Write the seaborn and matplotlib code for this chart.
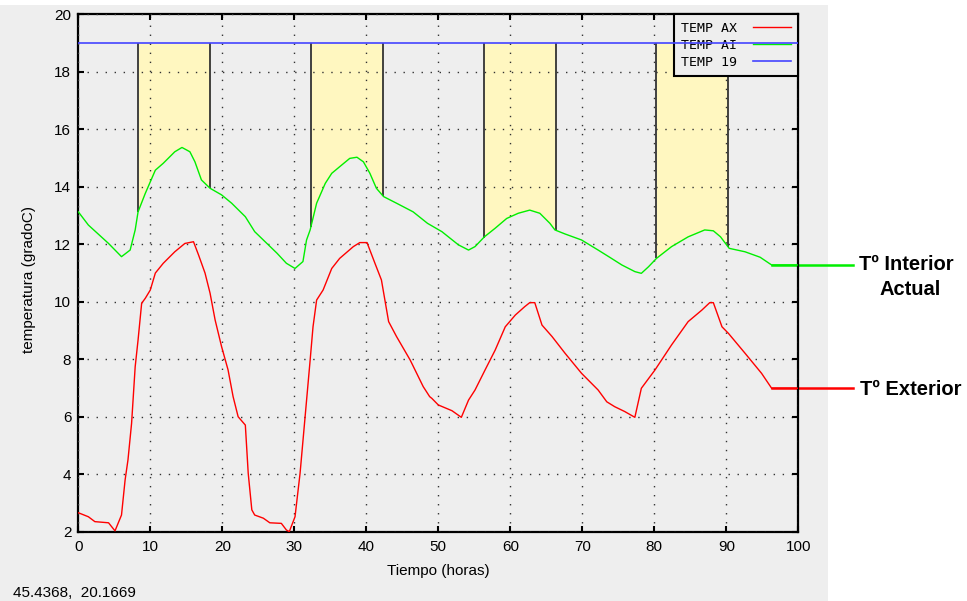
import numpy as np
import pandas as pd
import seaborn as sns
import matplotlib.pyplot as plt
from matplotlib.patches import Rectangle

# exterior temperature (TEMP AX)
ext_t = [0, 1.4, 2.3, 4.2, 4.9, 5.1, 6.0, 6.5, 6.9, 7.4, 7.9, 8.3, 8.8, 9.3, 10.0, 10.7,
         11.8, 13.4, 14.8, 16.0, 16.7, 17.6, 18.3, 19.0, 19.9, 20.8, 21.5, 22.2, 23.2, 23.6,
         24.1, 24.5, 25.7, 26.6, 28.2, 28.9, 29.3, 30.1, 30.8, 31.5, 32.2, 32.6, 33.1, 34.0,
         35.2, 36.3, 38.2, 39.1, 40.1, 41.2, 42.1, 43.1, 44.2, 46.1, 47.9, 48.8, 49.1, 50.0,
         51.9, 53.2, 54.2, 55.1, 56.5, 57.9, 59.3, 60.7, 62.0, 62.7, 63.4, 64.4, 65.8, 67.6,
         69.9, 72.2, 73.4, 74.5, 75.9, 77.3, 78.2, 80.1, 82.4, 84.7, 86.6, 87.7, 88.2, 89.4,
         90.3, 92.6, 94.9, 96.3, 100]
ext_v = [2.66, 2.52, 2.35, 2.31, 2.09, 2.03, 2.58, 3.8, 4.5, 5.77, 7.74, 8.67, 9.95, 10.12,
         10.41, 11.0, 11.34, 11.74, 12.03, 12.09, 11.63, 11.0, 10.3, 9.37, 8.44, 7.63, 6.7,
         6.0, 5.71, 4.03, 2.76, 2.58, 2.47, 2.31, 2.29, 2.06, 2.0, 2.52, 4.03, 6.0, 7.97,
         9.13, 10.06, 10.41, 11.16, 11.51, 11.92, 12.06, 12.06, 11.34, 10.76, 9.31, 8.79,
         7.97, 7.05, 6.7, 6.64, 6.41, 6.21, 5.98, 6.58, 6.93, 7.63, 8.32, 9.13, 9.54, 9.83,
         9.97, 9.97, 9.19, 8.79, 8.21, 7.51, 6.93, 6.52, 6.35, 6.18, 5.98, 6.99, 7.63, 8.5,
         9.31, 9.71, 9.97, 9.97, 9.13, 8.9, 8.21, 7.51, 6.99, 6.99]

# interior temperature (TEMP AI)
int_t = [0, 1.4, 4.2, 6.0, 7.2, 7.9, 8.3, 9.3, 10.7, 11.8, 13.4, 14.4, 15.5, 16.2, 17.1,
         18.3, 19.9, 21.3, 23.2, 24.5, 25.7, 27.6, 28.9, 30.1, 31.2, 31.7, 32.2, 33.1, 34.3,
         35.2, 36.3, 37.7, 38.7, 39.6, 40.5, 41.4, 42.4, 44.2, 46.5, 48.5, 50.5, 52.8, 54.2,
         55.1, 56.4, 57.9, 59.5, 61.1, 62.7, 64.1, 65.5, 66.2, 67.6, 69.9, 72.2, 73.8, 75.5,
         77.3, 78.2, 79.2, 80.3, 82.4, 84.7, 87.0, 88.2, 89.2, 90.4, 92.6, 94.7, 96.3, 100]
int_v = [13.13, 12.67, 12.03, 11.57, 11.8, 12.5, 13.13, 13.77, 14.58, 14.82, 15.22, 15.37,
         15.22, 14.87, 14.24, 13.95, 13.72, 13.43, 12.96, 12.44, 12.15, 11.69, 11.34, 11.16,
         11.4, 12.15, 12.5, 13.43, 14.12, 14.47, 14.7, 14.99, 15.03, 14.87, 14.47, 13.95,
         13.66, 13.43, 13.13, 12.73, 12.44, 11.98, 11.8, 11.92, 12.26, 12.56, 12.9, 13.08,
         13.19, 13.08, 12.73, 12.5, 12.36, 12.15, 11.8, 11.55, 11.28, 11.05, 10.99, 11.22,
         11.51, 11.92, 12.26, 12.5, 12.47, 12.26, 11.86, 11.74, 11.55, 11.28, 11.28]

setpoint = 19
band_start = [8.3, 32.3, 56.3, 80.3]
band_end = [18.3, 42.3, 66.3, 90.3]
series_labels = ["TEMP AX", "TEMP AI", "TEMP 19"]

ext = pd.DataFrame({"t": ext_t, "v": ext_v})
inn = pd.DataFrame({"t": int_t, "v": int_v})
ref = pd.DataFrame({"t": [0, 100], "v": [setpoint, setpoint]})

plt.rcParams["font.family"] = ["Liberation Sans", "DejaVu Sans"]

fig = plt.figure(figsize=(9.67, 6.01), dpi=100, facecolor="white")
fig.patches.append(Rectangle((0, 0), 828 / 967, 596 / 601, transform=fig.transFigure,
                             facecolor="#eeeeee", edgecolor="none", zorder=-10))
ax = fig.add_axes([78.3 / 967, 69.3 / 601, 720 / 967, 517.3 / 601])
ax.set_facecolor("#eeeeee")

# heating periods
for s, e in zip(band_start, band_end):
    xs = np.concatenate([[s], inn.t[(inn.t > s) & (inn.t < e)], [e]])
    ys = np.interp(xs, inn.t, inn.v)
    ax.fill_between(xs, ys, setpoint, color="#fff7c0", lw=0, zorder=1)
    ax.vlines([s, e], [ys[0], ys[-1]], setpoint, color="#333333", lw=1.3, zorder=2)

sns.lineplot(data=ext, x="t", y="v", ax=ax, color="#ff0000", lw=1.0, sort=False,
             label=series_labels[0], zorder=3)
sns.lineplot(data=inn, x="t", y="v", ax=ax, color="#00ee00", lw=1.0, sort=False,
             label=series_labels[1], zorder=3)
sns.lineplot(data=ref, x="t", y="v", ax=ax, color="#4444ff", lw=1.2, sort=False,
             label=series_labels[2], zorder=6)

# leader lines out to the annotations
ax.plot([ext_t[-2], 107.6], [ext_v[-1], ext_v[-1]], color="#ff0000", lw=1.8, clip_on=False)
ax.plot([int_t[-2], 107.6], [int_v[-1], int_v[-1]], color="#00ee00", lw=1.8, clip_on=False)

ax.set_xlim(0, 100)
ax.set_ylim(2, 20)
ax.set_xticks(range(0, 101, 10))
ax.set_yticks(range(2, 21, 2))
ax.grid(True, color="#333333", lw=1.0, linestyle=(0, (1, 5.5)))
ax.set_axisbelow(False)
ax.tick_params(direction="in", top=True, right=True, length=4, width=1.5,
               labelsize=11, colors="black")
ax.tick_params(axis="x", pad=6)
ax.tick_params(axis="y", pad=5)
for sp in ax.spines.values():
    sp.set_linewidth(1.6)
    sp.set_color("black")

ax.set_xlabel("Tiempo (horas)", fontsize=11)
ax.xaxis.set_label_coords(0.5, -0.062)
ax.set_ylabel("temperatura (gradoC)", fontsize=11)
ax.yaxis.set_label_coords(-0.059, 0.488)

leg = ax.legend(loc="upper right", bbox_to_anchor=(1, 1), borderaxespad=0,
                markerfirst=False, fancybox=False, framealpha=1, facecolor="#eeeeee",
                edgecolor="black", handlelength=2.9, handletextpad=1.2, labelspacing=0.3,
                borderpad=0.55, prop={"family": "DejaVu Sans Mono", "size": 9.5})
leg.get_frame().set_linewidth(1.5)
leg.set_zorder(5)

fig.text(13 / 967, 0.006, "45.4368,  20.1669", fontsize=11, va="baseline")

fig.text(906 / 967, 1 - 270 / 601, "Tº Interior", fontsize=14.5, fontweight="bold",
         ha="center", va="baseline")
fig.text(910 / 967, 1 - 295 / 601, "Actual", fontsize=14.5, fontweight="bold",
         ha="center", va="baseline")
fig.text(911 / 967, 1 - 395 / 601, "Tº Exterior", fontsize=14.5, fontweight="bold",
         ha="center", va="baseline")

fig.savefig("out.png", dpi=100, facecolor="white")
